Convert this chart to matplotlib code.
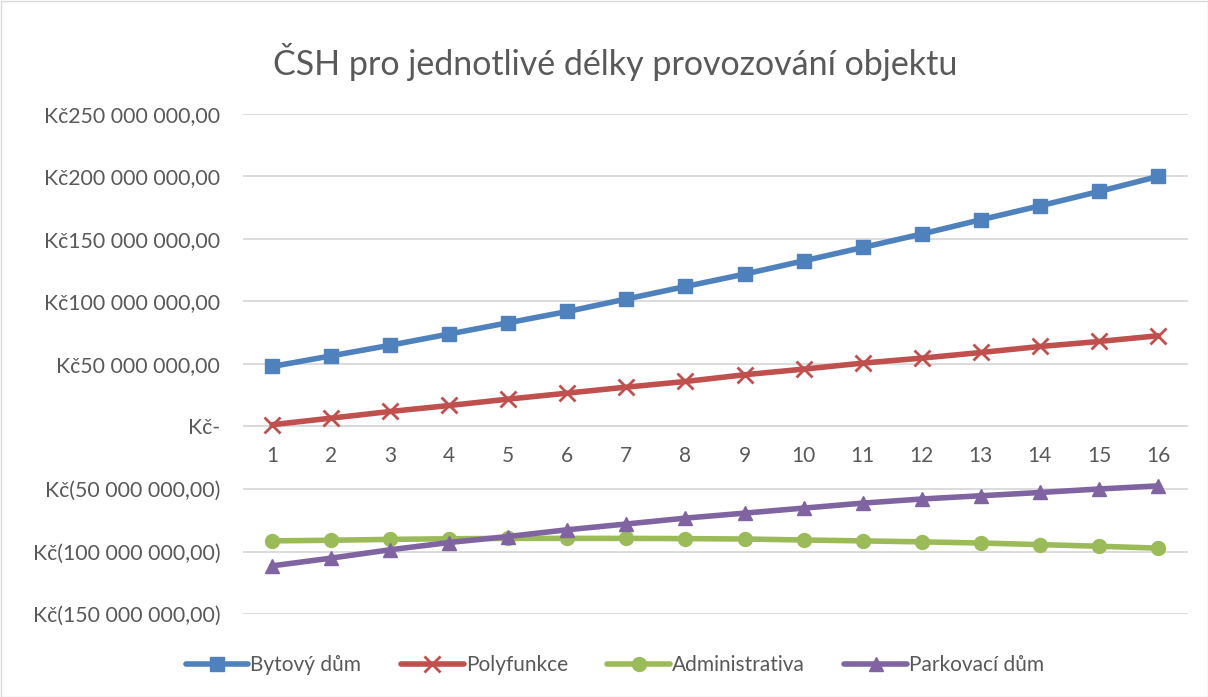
import matplotlib
matplotlib.use("Agg")
import matplotlib.pyplot as plt
from matplotlib.ticker import FuncFormatter, MultipleLocator
from matplotlib.patches import Rectangle

plt.rcParams['font.family'] = ['Lato', 'DejaVu Sans']

years = list(range(1, 17))
bytovy = [48.0, 56.5, 65.0, 74.0, 83.0, 92.0, 102.0, 112.0, 121.9, 132.5, 143.2, 154.0, 165.4, 176.5, 188.0, 200.0]
polyfunkce = [1.4, 6.7, 12.0, 16.8, 21.9, 26.7, 31.5, 36.0, 41.4, 45.9, 50.7, 54.7, 59.2, 64.0, 68.0, 72.6]
administrativa = [-91.5, -91.0, -90.3, -89.8, -89.5, -89.5, -89.5, -89.7, -90.0, -90.8, -91.5, -92.3, -93.2, -94.5, -95.8, -97.3]
parkovaci = [-111.5, -105.3, -98.6, -92.8, -88.0, -82.6, -78.0, -73.3, -69.3, -65.3, -61.3, -58.0, -55.4, -52.8, -50.0, -47.5]

series = [
    ("Bytový dům", bytovy, "#4F81BD", "s", 10),
    ("Polyfunkce", polyfunkce, "#C0504D", "x", 10),
    ("Administrativa", administrativa, "#9BBB59", "o", 10),
    ("Parkovací dům", parkovaci, "#8064A2", "^", 10),
]

W, H = 1208, 697
fig = plt.figure(figsize=(W / 100, H / 100), dpi=100)
ax = fig.add_axes([242.5 / W, 1 - 614 / H, (1187.5 - 242.5) / W, (614 - 114) / H])

for name, vals, col, mk, ms in series:
    v = [x * 1e6 for x in vals]
    kw = dict(color=col, lw=4, marker=mk, markersize=ms, label=name, solid_capstyle='round')
    if mk == 'x':
        kw.update(markeredgewidth=2, markersize=12)
    ax.plot(years, v, **kw)

ax.set_xlim(0.5, 16.5)
ax.set_ylim(-150e6, 250e6)
ax.yaxis.set_major_locator(MultipleLocator(50e6))


def fmt(v, pos):
    m = int(round(abs(v)))
    if m == 0:
        return "Kč-"
    s = f"{m:,}".replace(",", " ") + ",00"
    return f"Kč({s})" if v < 0 else f"Kč{s}"


ax.yaxis.set_major_formatter(FuncFormatter(fmt))
ax.grid(axis='y', color='#D9D9D9', lw=1.3)
ax.set_axisbelow(True)
for s in ax.spines.values():
    s.set_visible(False)
ax.axhline(0, color='#D9D9D9', lw=1.3, zorder=0)
ax.tick_params(axis='y', length=0, labelsize=15.3, labelcolor='#595959', pad=16)
ax.set_xticks([])
for x in years:
    ax.annotate(str(x), xy=(x, 0), xycoords='data', xytext=(0, -21), textcoords='offset points',
                ha='center', va='center', fontsize=15, color='#595959')

fig.text(615 / W, 1 - 62 / H, "ČSH pro jednotlivé délky provozování objektu",
         ha='center', va='center', fontsize=24.5, color='#595959')

leg = fig.legend(loc='center', bbox_to_anchor=(615 / W, 1 - 665 / H), ncol=4, frameon=False,
                 fontsize=15, labelcolor='#595959', handlelength=3.0, handletextpad=0.1,
                 columnspacing=1.9)

fig.patches.append(Rectangle((0.5 / W, 0.5 / H), 1 - 1 / W, 1 - 1 / H, transform=fig.transFigure,
                             fill=False, edgecolor='#D9D9D9', lw=1))

fig.savefig("out.png", dpi=100, facecolor='white')
